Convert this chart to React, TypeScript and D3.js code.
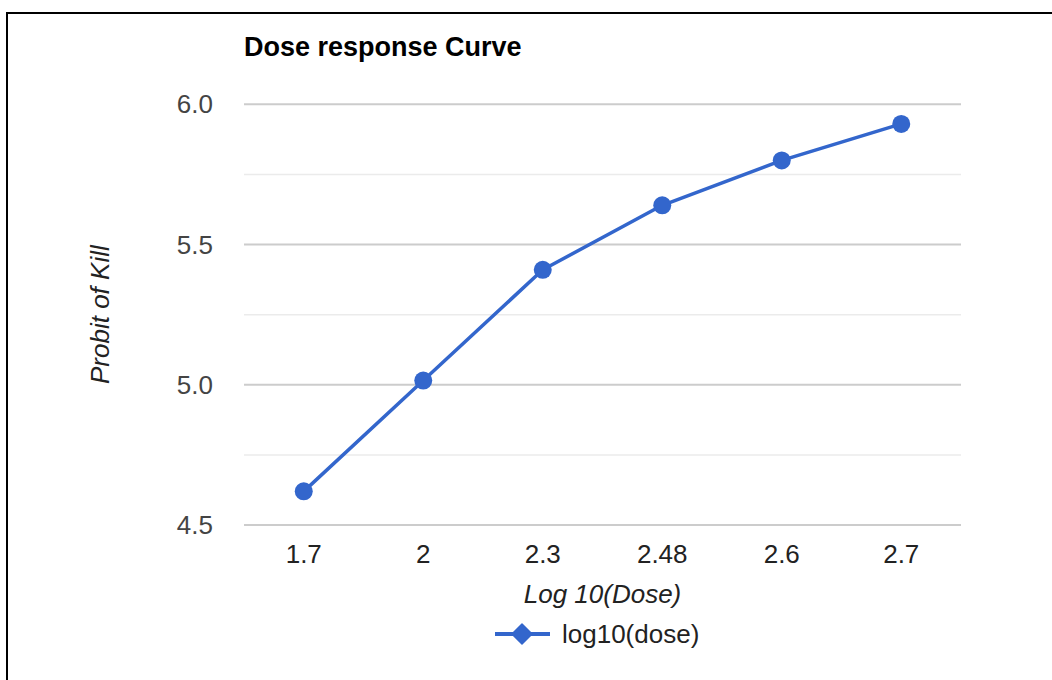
import React from "react";
import * as d3 from "d3";

// Dose categories (log10 of dose) and the probit of kill at each
const doseLabels: string[] = ["1.7", "2", "2.3", "2.48", "2.6", "2.7"];
const probitValues: number[] = [4.62, 5.015, 5.41, 5.64, 5.8, 5.93];
const majorTicks: number[] = [4.5, 5.0, 5.5, 6.0];
const minorTicks: number[] = [4.75, 5.25, 5.75];

const W = 1052;
const H = 680;
const plot = { left: 244, right: 961, top: 104.3, bottom: 525 };
const FONT = "'Liberation Sans', Arial, sans-serif";
const BLUE = "#3366cc";
const FS = 26;

export default function App() {
  const x = d3
    .scaleBand<string>()
    .domain(doseLabels)
    .range([plot.left, plot.right])
    .paddingInner(0)
    .paddingOuter(0);
  const y = d3.scaleLinear().domain([4.5, 6.0]).range([plot.bottom, plot.top]);

  const cx = (d: string) => (x(d) as number) + x.bandwidth() / 2;
  const pts: [number, number][] = doseLabels.map((d, i) => [cx(d), y(probitValues[i])]);
  const line = d3.line<[number, number]>()(pts) as string;

  const legendY = 634;
  const legendMarker = 10; // half-width of the legend diamond

  return (
    <svg
      width={W}
      height={H}
      style={{ position: "absolute", left: 0, top: 0, background: "#fff" }}
      fontFamily={FONT}
    >
      <rect x={0} y={0} width={W} height={H} fill="#fff" />
      <rect x={7} y={13} width={1200} height={1000} fill="none" stroke="#000" strokeWidth={2} />

      <text x={244} y={56} fontSize={27} fontWeight="bold" fill="#000">
        Dose response Curve
      </text>

      {minorTicks.map((t) => (
        <line key={"m" + t} x1={plot.left} x2={plot.right} y1={y(t)} y2={y(t)} stroke="#ebebeb" strokeWidth={1.5} />
      ))}
      {majorTicks.map((t) => (
        <line key={"M" + t} x1={plot.left} x2={plot.right} y1={y(t)} y2={y(t)} stroke="#cccccc" strokeWidth={2} />
      ))}
      {majorTicks.map((t) => (
        <text key={"t" + t} x={213} y={y(t)} dy="0.35em" textAnchor="end" fontSize={FS} fill="#444">
          {d3.format(".1f")(t)}
        </text>
      ))}
      {doseLabels.map((d) => (
        <text key={"x" + d} x={cx(d)} y={563} textAnchor="middle" fontSize={FS} fill="#222">
          {d}
        </text>
      ))}

      <text
        transform={`translate(109,${(plot.top + plot.bottom) / 2}) rotate(-90)`}
        textAnchor="middle"
        fontSize={FS}
        fontStyle="italic"
        fill="#222"
      >
        Probit of Kill
      </text>
      <text x={(plot.left + plot.right) / 2} y={603} textAnchor="middle" fontSize={FS} fontStyle="italic" fill="#222">
        Log 10(Dose)
      </text>

      <path d={line} fill="none" stroke={BLUE} strokeWidth={3.5} strokeLinejoin="round" />
      {pts.map((p, i) => (
        <circle key={i} cx={p[0]} cy={p[1]} r={9} fill={BLUE} />
      ))}

      <g>
        <line x1={495} x2={550} y1={legendY} y2={legendY} stroke={BLUE} strokeWidth={4} />
        <polygon
          points={`${522 - legendMarker},${legendY} ${522},${legendY - legendMarker} ${522 + legendMarker},${legendY} ${522},${legendY + legendMarker}`}
          fill={BLUE}
          stroke={BLUE}
          strokeWidth={1.5}
          strokeLinejoin="round"
        />
        <text x={562} y={legendY} dy="0.35em" fontSize={FS} fill="#222">
          log10(dose)
        </text>
      </g>
    </svg>
  );
}
